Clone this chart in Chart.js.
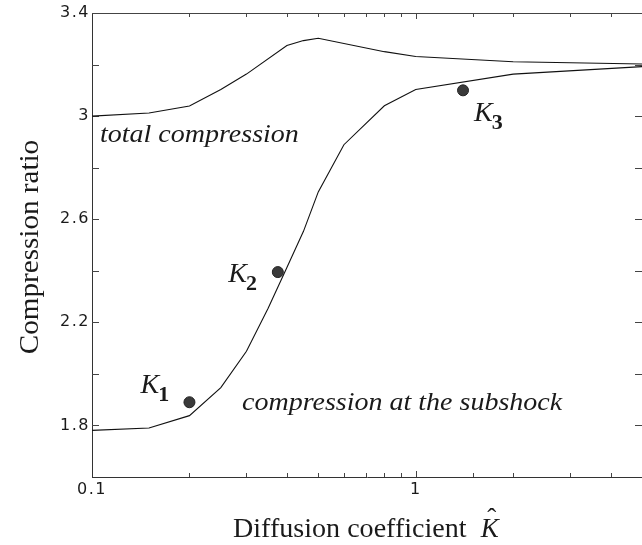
<!DOCTYPE html>
<html><head><meta charset="utf-8">
<script src="https://cdn.jsdelivr.net/npm/chart.js@4"></script>
<style>html,body{margin:0;padding:0;background:#fff}</style>
</head><body>
<canvas id="c" width="642" height="545"></canvas>
<script>
// ---- data ----
const totalX = [0.1, 0.15, 0.2, 0.25, 0.3, 0.4, 0.45, 0.5, 0.8, 1, 2, 5];
const totalY = [3.00, 3.012, 3.039, 3.103, 3.163, 3.274, 3.293, 3.302, 3.25, 3.231, 3.211, 3.202];
const subX = [0.1, 0.15, 0.2, 0.25, 0.3, 0.35, 0.4, 0.45, 0.5, 0.6, 0.8, 1, 2, 5];
const subY = [1.781, 1.79, 1.838, 1.947, 2.088, 2.255, 2.413, 2.553, 2.706, 2.889, 3.040, 3.103, 3.163, 3.192];
const kX = [0.2, 0.375, 1.4];
const kY = [1.89, 2.395, 3.10];
const kSubs = ['1', '2', '3'];
const xTickLabels = [0.1, 1];
const yTickLabels = [1.8, 2.2, 2.6, 3, 3.4];
const xRange = [0.1, 5];
const yRange = [1.6, 3.4];

const toPts = (xs, ys) => xs.map((x, i) => ({x, y: ys[i]}));
const near = (a, b) => Math.abs(a - b) < 1e-6;

function drawText(ctx, str, x, y, font, sx, align) {
  ctx.save();
  ctx.font = font; ctx.fillStyle = '#1a1a1a';
  ctx.textBaseline = 'alphabetic'; ctx.textAlign = align || 'left';
  ctx.translate(x, y); ctx.scale(sx || 1, 1);
  ctx.fillText(str, 0, 0);
  const w = ctx.measureText(str).width * (sx || 1);
  ctx.restore();
  return w;
}

const SERIF = "'Liberation Serif', 'Times New Roman', serif";

const decor = {
  id: 'decor',
  beforeDraw(chart) { chart.ctx.letterSpacing = '1.5px'; },
  beforeDatasetsDraw(chart) {
    const ctx = chart.ctx;
    ctx.letterSpacing = '0px';
    const {left, right, top, bottom} = chart.chartArea;
    const xs = chart.scales.x, ys = chart.scales.y;
    ctx.save();
    ctx.strokeStyle = '#444'; ctx.lineWidth = 1;
    // top frame line
    ctx.beginPath(); ctx.moveTo(left, top + 0.5); ctx.lineTo(right, top + 0.5); ctx.stroke();
    // x tick marks, inward at bottom and top
    xs.ticks.forEach(t => {
      if (near(t.value, xRange[0])) return;
      const px = Math.round(xs.getPixelForValue(t.value)) + 0.5;
      const len = xTickLabels.some(v => near(v, t.value)) ? 6 : 4;
      ctx.beginPath();
      ctx.moveTo(px, bottom); ctx.lineTo(px, bottom - len);
      ctx.moveTo(px, top); ctx.lineTo(px, top + len);
      ctx.stroke();
    });
    // y tick marks, inward at left and right
    ys.ticks.forEach(t => {
      if (near(t.value, yRange[0]) || near(t.value, yRange[1])) return;
      const py = Math.round(ys.getPixelForValue(t.value)) + 0.5;
      ctx.beginPath();
      ctx.moveTo(left, py); ctx.lineTo(left + 7, py);
      ctx.moveTo(right, py); ctx.lineTo(right - 7, py);
      ctx.stroke();
    });
    ctx.restore();
  },
  afterDatasetsDraw(chart) {
    const ctx = chart.ctx;
    const xs = chart.scales.x, ys = chart.scales.y;
    // curve annotations
    drawText(ctx, 'total compression', 100, 142, 'italic 25px ' + SERIF, 1.12);
    drawText(ctx, 'compression at the subshock', 242, 410, 'italic 25px ' + SERIF, 1.12);
    // K labels next to the points
    const offs = [[-49, -9], [-49.5, 9.7], [11, 31]];
    kX.forEach((kx, i) => {
      const px = xs.getPixelForValue(kx), py = ys.getPixelForValue(kY[i]);
      const x0 = px + offs[i][0], y0 = py + offs[i][1];
      const w = drawText(ctx, 'K', x0, y0, 'italic 28px ' + SERIF, 1);
      drawText(ctx, kSubs[i], x0 + w - 1, y0 + 8, 'bold 22px ' + SERIF, 1);
    });
    // axis titles
    const w1 = drawText(ctx, 'Diffusion coefficient', 233, 537, '27px ' + SERIF, 1.04);
    const kx = 233 + w1 + 14;
    const wk = drawText(ctx, 'K', kx, 537, 'italic 27px ' + SERIF, 1);
    drawText(ctx, 'ˆ', kx + wk / 2 + 2, 527, '27px ' + SERIF, 1, 'center');
    ctx.save();
    ctx.translate(38, 247); ctx.rotate(-Math.PI / 2);
    drawText(ctx, 'Compression ratio', 0, 0, '28px ' + SERIF, 1.04, 'center');
    ctx.restore();
  }
};

new Chart(document.getElementById('c'), {
  type: 'scatter',
  data: {
    datasets: [
      {data: toPts(totalX, totalY), showLine: true, borderColor: '#111', borderWidth: 1.1, pointRadius: 0, tension: 0, fill: false},
      {data: toPts(subX, subY), showLine: true, borderColor: '#111', borderWidth: 1.1, pointRadius: 0, tension: 0, fill: false},
      {data: toPts(kX, kY), showLine: false, pointRadius: 5.5, pointStyle: 'circle', backgroundColor: '#3a3a3a', borderColor: '#222', borderWidth: 1},
      {data: toPts(kX, kY), showLine: false, pointRadius: 2.5, pointStyle: 'cross', borderColor: '#9a9a9a', borderWidth: 1}
    ]
  },
  options: {
    responsive: false, animation: false, devicePixelRatio: 1,
    layout: {autoPadding: false, padding: {top: 13, right: -1, left: 0, bottom: 0}},
    plugins: {legend: {display: false}, tooltip: {enabled: false}},
    scales: {
      x: {
        type: 'logarithmic', min: xRange[0], max: xRange[1],
        grid: {display: false, drawTicks: false},
        border: {display: true, color: '#333', width: 1},
        afterFit: s => { s.height = 68; s.paddingRight = 0; s.paddingLeft = 0; },
        ticks: {
          autoSkip: false, maxRotation: 0, padding: 3, color: '#1a1a1a',
          font: {family: "'DejaVu Sans', sans-serif", size: 16},
          callback: v => { const m = xTickLabels.find(l => near(l, v)); return m !== undefined ? String(m) : ''; }
        }
      },
      y: {
        type: 'linear', min: yRange[0], max: yRange[1],
        grid: {display: false, drawTicks: false},
        border: {display: true, color: '#333', width: 1},
        afterFit: s => { s.width = 92; },
        ticks: {
          stepSize: 0.2, padding: 2, color: '#1a1a1a',
          font: {family: "'DejaVu Sans', sans-serif", size: 16},
          callback: v => { const m = yTickLabels.find(l => near(l, v)); return m !== undefined ? String(m) : ''; }
        }
      }
    }
  },
  plugins: [decor]
});
</script>
</body></html>
